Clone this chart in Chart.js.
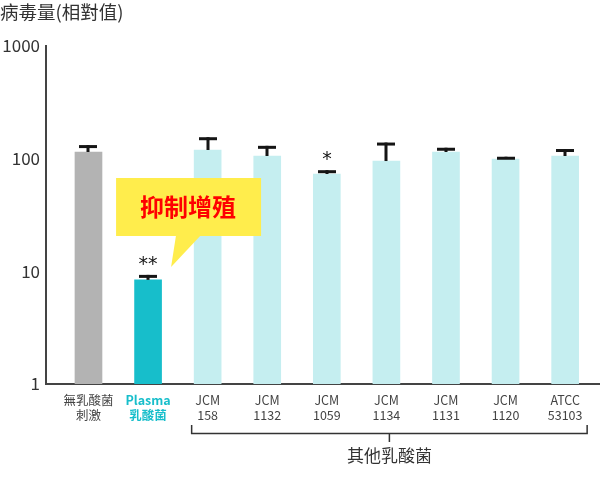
<!DOCTYPE html>
<html>
<head>
<meta charset="utf-8">
<script src="https://cdn.jsdelivr.net/npm/chart.js@4.4.0/dist/chart.umd.min.js"></script>
<style>
html,body{margin:0;padding:0;background:#fff;}
#wrap{width:600px;height:483px;position:relative;}
</style>
</head>
<body>
<div id="wrap"><canvas id="c" width="600" height="483"></canvas></div>
<script>
// ---- data ----
const categories = [['無乳酸菌','刺激'], ['Plasma','乳酸菌'], ['JCM','158'], ['JCM','1132'], ['JCM','1059'], ['JCM','1134'], ['JCM','1131'], ['JCM','1120'], ['ATCC','53103']];
const virusValues = [114.6, 8.4, 119.4, 105.6, 73.1, 95.3, 114.6, 99.3, 105.6];
const errorUpper = [132, 9.3, 155, 130, 79, 139, 125, 104, 121.8];
const significance = ['', '**', '', '', '*', '', '', '', ''];
const yTickValues = [1, 10, 100, 1000];
const yTickLabels = ['1', '10', '100', '1000'];
const yTitle = '病毒量(相對值)';
const groupLabel = '其他乳酸菌';
const calloutText = '抑制增殖';

const FONT = "'Noto Sans CJK TC', 'Noto Sans', sans-serif";
const barColors = ['#b3b3b3', '#17becb', '#c5eef0', '#c5eef0', '#c5eef0', '#c5eef0', '#c5eef0', '#c5eef0', '#c5eef0'];

const decor = {
  id: 'decor',
  afterDatasetsDraw(chart) {
    const ctx = chart.ctx;
    const xs = chart.scales.x, ys = chart.scales.y;
    ctx.save();
    // error bars
    virusValues.forEach((v, i) => {
      const cx = Math.round(xs.getPixelForValue(i));
      const yb = ys.getPixelForValue(v);
      const ye = ys.getPixelForValue(errorUpper[i]);
      ctx.fillStyle = '#151515';
      ctx.fillRect(cx - 1.5, ye, 3, yb - ye);
      ctx.fillRect(cx - 9, ye, 18, 3);
      if (significance[i]) {
        ctx.font = '19px "DejaVu Sans", sans-serif';
        ctx.textAlign = 'center';
        ctx.textBaseline = 'middle';
        ctx.fillText(significance[i], cx, ye - 10);
      }
    });
    // callout
    const px = xs.getPixelForValue(1);
    ctx.fillStyle = '#ffed4c';
    ctx.fillRect(px - 32, 178, 145, 58);
    ctx.beginPath();
    ctx.moveTo(px + 28, 235);
    ctx.lineTo(px + 53, 235);
    ctx.lineTo(px + 23, 267);
    ctx.closePath();
    ctx.fill();
    ctx.fillStyle = '#ff0000';
    ctx.font = 'bold 24px ' + FONT;
    ctx.textAlign = 'center';
    ctx.textBaseline = 'middle';
    ctx.fillText(calloutText, px + 40, 207);
    // bracket
    const bl = xs.getPixelForValue(2) - 16;
    const br = xs.getPixelForValue(8) + 22;
    const by = 433.5;
    ctx.strokeStyle = '#333';
    ctx.lineWidth = 1.5;
    ctx.beginPath();
    ctx.moveTo(bl, 425); ctx.lineTo(bl, by); ctx.lineTo(br, by); ctx.lineTo(br, 425);
    const bm = (bl + br) / 2;
    ctx.moveTo(bm, by); ctx.lineTo(bm, 442);
    ctx.stroke();
    ctx.fillStyle = '#333';
    ctx.font = '17px ' + FONT;
    ctx.textAlign = 'center';
    ctx.textBaseline = 'middle';
    ctx.fillText(groupLabel, bm, 456);
    // y title
    ctx.textAlign = 'left';
    ctx.font = '18.5px ' + FONT;
    ctx.fillText(yTitle, 0, 12);
    ctx.restore();
  }
};

new Chart(document.getElementById('c'), {
  type: 'bar',
  data: {
    datasets: [{
      data: virusValues.map((v, i) => ({x: i, y: v})),
      backgroundColor: barColors,
      barThickness: 27,
      borderWidth: 0
    }]
  },
  options: {
    responsive: false,
    animation: false,
    layout: {padding: {top: 46, right: 0, bottom: 0, left: 0}},
    plugins: {legend: {display: false}, tooltip: {enabled: false}, title: {display: false}},
    scales: {
      x: {
        type: 'linear',
        offset: false,
        min: -0.713,
        max: 8.585,
        grid: {display: false, drawTicks: false, offset: false},
        border: {display: true, color: '#444', width: 2},
        afterBuildTicks(scale) { scale.ticks = categories.map((c, i) => ({value: i})); },
        afterFit(scale) { scale.height = 99; },
        ticks: {
          autoSkip: false,
          maxRotation: 0,
          padding: 9,
          callback: (v) => categories[v],
          color: (ctx) => ctx.index === 1 ? '#17becb' : '#444',
          font: (ctx) => ({family: FONT, size: 12.5, weight: ctx.index === 1 ? 'bold' : 'normal', lineHeight: 1.2})
        }
      },
      y: {
        type: 'logarithmic',
        min: 1,
        max: 1000,
        grid: {display: false, drawTicks: false},
        border: {display: true, color: '#444', width: 2},
        afterBuildTicks(scale) { scale.ticks = yTickValues.map(v => ({value: v})); },
        afterFit(scale) { scale.width = 46; },
        ticks: {
          padding: 6,
          color: '#333',
          font: {family: FONT, size: 17},
          callback: (v) => yTickLabels[yTickValues.indexOf(v)]
        }
      }
    }
  },
  plugins: [decor]
});
</script>
</body>
</html>
